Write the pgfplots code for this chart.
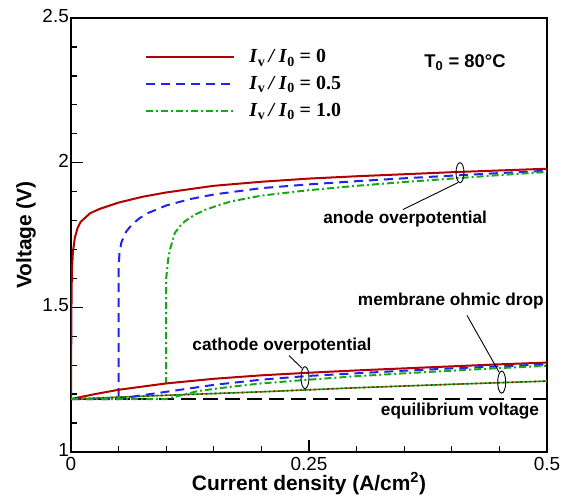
\documentclass[border=0pt]{standalone}
\usepackage{fontspec}
\setmainfont{Liberation Sans}
\newfontfamily\timesfont{Liberation Serif}
\usepackage{pgfplots}
\pgfplotsset{compat=1.18}
\definecolor{cred}{RGB}{176,0,0}
\definecolor{cblue}{RGB}{35,35,240}
\definecolor{cgreen}{RGB}{20,170,20}
\begin{document}
\begin{tikzpicture}[x=1bp,y=1bp]
\useasboundingbox (0,0) rectangle (566,495);
\begin{axis}[at={(71bp,43bp)}, anchor=south west, scale only axis,
  width=476bp, height=434bp,
  xmin=0, xmax=0.5, ymin=1, ymax=2.5,
  xtick={0,0.25,0.5}, xticklabels={0,0.25,0.5},
  minor xtick={0.05,0.1,0.15,0.2,0.3,0.35,0.4,0.45},
  ytick={1,1.5,2,2.5}, yticklabels={1,1.5,2,2.5},
  minor ytick={1.1,1.2,1.3,1.4,1.6,1.7,1.8,1.9,2.1,2.2,2.3,2.4},
  xtick pos=bottom, ytick pos=left,
  tick align=inside, major tick length=12bp, minor tick length=6bp,
  axis line style={line width=1.8bp},
  every tick/.style={black, line width=1.3bp},
  /pgf/number format/assume math mode=true,
  tick label style={font=\fontsize{19}{20}\selectfont},
  xticklabel style={inner sep=1bp, yshift=-4bp},
  yticklabel style={inner sep=2bp, yshift=2bp},
  xlabel={\textbf{Current density (A/cm\textsuperscript{2})}},
  ylabel={\textbf{Voltage (V)}},
  label style={font=\fontsize{21}{23}\selectfont},
  xlabel style={at={(axis description cs:0.5,-0.073)}, anchor=center},
  ylabel style={at={(axis description cs:-0.0945,0.5)}, anchor=center},
  legend style={at={(axis cs:0.078,2.398)}, anchor=north west, draw=none, fill=none,
    inner sep=0pt, row sep=8bp, font=\timesfont\bfseries\fontsize{20}{21}\selectfont},
  legend cell align=left,
  legend image code/.code={\draw[#1] (0bp,0bp) -- (88bp,0bp); \path (100bp,0bp);},
]
% upper curves (total voltage)
\addplot[cred, line width=2bp] coordinates {
(0,1.183) (0.0003,1.40) (0.0006,1.55) (0.001,1.63) (0.002,1.69) (0.004,1.74)
(0.007,1.775) (0.01,1.795) (0.02,1.825) (0.03,1.84) (0.05,1.862) (0.075,1.882)
(0.1,1.897) (0.15,1.92) (0.2,1.934) (0.25,1.945) (0.3,1.953) (0.35,1.96)
(0.4,1.967) (0.45,1.973) (0.5,1.979)};
\addlegendentry{\textit{I}\textsubscript{v}\,\textit{/}\,\textit{I}\textsubscript{0} = 0}
\addplot[cblue, line width=2bp, dash pattern=on 9bp off 6bp] coordinates {
(0.05,1.19) (0.05,1.64) (0.051,1.69) (0.053,1.725) (0.058,1.762) (0.064,1.786)
(0.072,1.808) (0.081,1.826) (0.1,1.852) (0.125,1.874) (0.15,1.89) (0.2,1.912)
(0.25,1.925) (0.3,1.936) (0.35,1.946) (0.4,1.955) (0.45,1.964) (0.5,1.972)};
\addlegendentry{\textit{I}\textsubscript{v}\,\textit{/}\,\textit{I}\textsubscript{0} = 0.5}
\addplot[cgreen, line width=2bp, dash pattern=on 7bp off 3bp on 2bp off 3bp] coordinates {
(0.1,1.235) (0.1,1.60) (0.102,1.665) (0.104,1.70) (0.109,1.757) (0.115,1.782)
(0.12,1.798) (0.13,1.82) (0.141,1.837) (0.155,1.853) (0.168,1.866) (0.2,1.886)
(0.25,1.905) (0.3,1.92) (0.35,1.933) (0.4,1.945) (0.45,1.957) (0.5,1.968)};
\addlegendentry{\textit{I}\textsubscript{v}\,\textit{/}\,\textit{I}\textsubscript{0} = 1.0}
% equilibrium
\addplot[black, line width=1.8bp, dash pattern=on 15bp off 7bp, forget plot] coordinates {
(0,1.183) (0.5,1.183)};
% ohmic drop
\addplot[cgreen, line width=1.6bp, forget plot] coordinates {
(0,1.183) (0.1,1.196) (0.2,1.208) (0.3,1.222) (0.4,1.234) (0.5,1.245)};
\addplot[cred, line width=1.6bp, dash pattern=on 1.5bp off 3bp, forget plot] coordinates {
(0,1.183) (0.1,1.196) (0.2,1.208) (0.3,1.222) (0.4,1.234) (0.5,1.245)};
% cathode curves
\addplot[cred, line width=2bp, forget plot] coordinates {
(0,1.183) (0.025,1.20) (0.05,1.215) (0.1,1.237) (0.15,1.253) (0.2,1.265)
(0.25,1.274) (0.3,1.282) (0.35,1.289) (0.4,1.296) (0.45,1.303) (0.5,1.309)};
\addplot[cblue, line width=2bp, dash pattern=on 9bp off 6bp, forget plot] coordinates {
(0,1.183) (0.05,1.183) (0.07,1.194) (0.1,1.208) (0.15,1.232) (0.2,1.25)
(0.25,1.263) (0.3,1.272) (0.35,1.281) (0.4,1.289) (0.45,1.296) (0.5,1.303)};
\addplot[cgreen, line width=2bp, dash pattern=on 7bp off 3bp on 2bp off 3bp, forget plot] coordinates {
(0,1.183) (0.1,1.183) (0.12,1.2) (0.134,1.211) (0.169,1.226) (0.2,1.237)
(0.25,1.25) (0.3,1.262) (0.35,1.272) (0.4,1.281) (0.45,1.29) (0.5,1.298)};
% annotations
\draw[black, line width=0.9bp] (axis cs:0.4086,1.9655) ellipse (4bp and 10bp);
\draw[black, line width=0.9bp] (axis cs:0.4065,1.931) -- (axis cs:0.3487,1.838);
\node[font=\bfseries\fontsize{17.3}{18}\selectfont] at (axis cs:0.351,1.805) {anode overpotential};
\draw[black, line width=0.9bp] (axis cs:0.2458,1.257) ellipse (4bp and 11bp);
\draw[black, line width=0.9bp] (axis cs:0.229,1.333) -- (axis cs:0.2426,1.29);
\node[font=\bfseries\fontsize{17.3}{18}\selectfont] at (axis cs:0.2216,1.367) {cathode overpotential};
\draw[black, line width=0.9bp] (axis cs:0.4524,1.2414) ellipse (4bp and 11bp);
\draw[black, line width=0.9bp] (axis cs:0.416,1.472) -- (axis cs:0.4496,1.276);
\node[font=\bfseries\fontsize{17.3}{18}\selectfont] at (axis cs:0.399,1.521) {membrane ohmic drop};
\node[font=\bfseries\fontsize{17.3}{18}\selectfont] at (axis cs:0.4086,1.1414) {equilibrium voltage};
\node[font=\bfseries\fontsize{18.5}{20}\selectfont] at (axis cs:0.4139,2.345) {T\textsubscript{0} = 80°C};
\end{axis}
\end{tikzpicture}
\end{document}
